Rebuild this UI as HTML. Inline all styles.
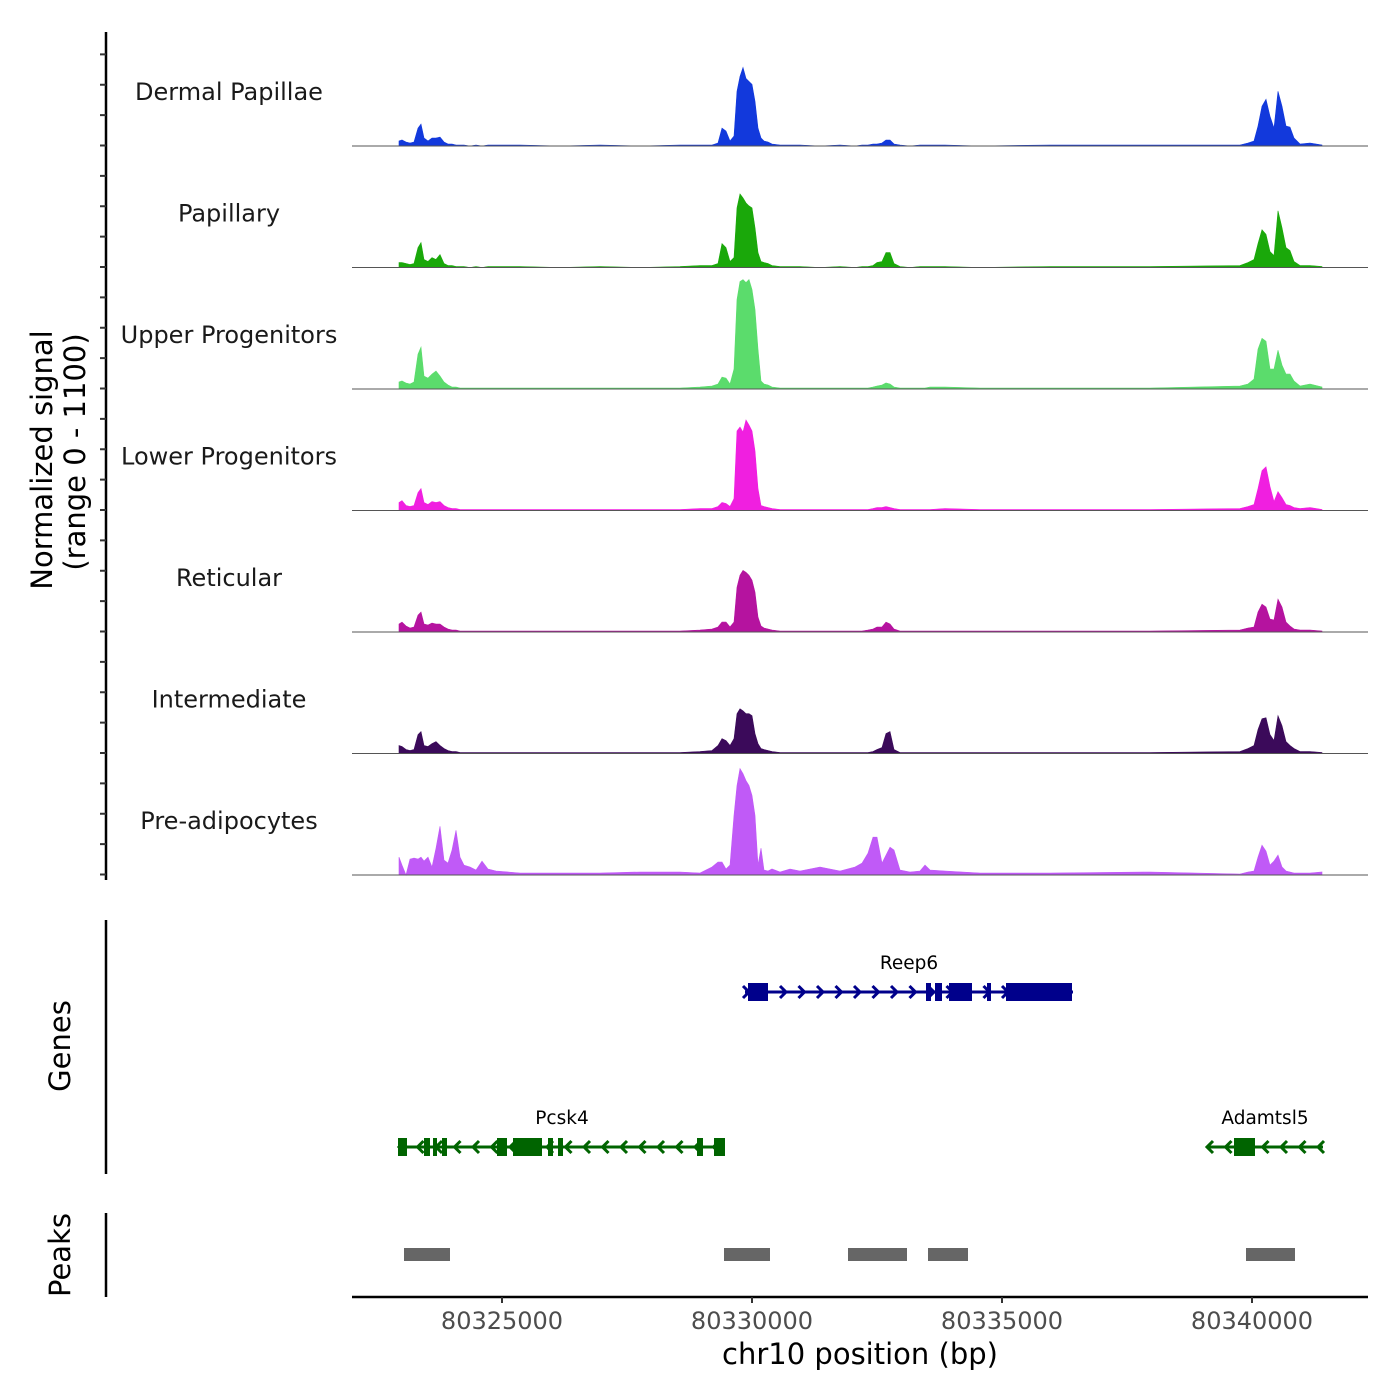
<!DOCTYPE html>
<html><head><meta charset="utf-8"><style>
html,body{margin:0;padding:0;background:#fff;}
svg{display:block;font-family:"DejaVu Sans","Liberation Sans",sans-serif;}
</style></head><body>
<svg id="chart" width="1400" height="1400" viewBox="0 0 1400 1400" xmlns="http://www.w3.org/2000/svg">
<rect x="0" y="0" width="1400" height="1400" fill="#fff"/>
<g id="signal-axis"></g>
<text transform="translate(52,460) rotate(-90)" text-anchor="middle" font-size="29" fill="#000">Normalized signal</text>
<text transform="translate(85,452) rotate(-90)" text-anchor="middle" font-size="29" fill="#000">(range 0 - 1100)</text>
<g id="tracks"></g>
<line x1="106" y1="920" x2="106" y2="1174" stroke="#000" stroke-width="2.5"/>
<text transform="translate(70,1046) rotate(-90)" text-anchor="middle" font-size="29" fill="#000">Genes</text>
<g id="genes"></g>
<line x1="106" y1="1213" x2="106" y2="1297" stroke="#000" stroke-width="2.5"/>
<text transform="translate(70,1255) rotate(-90)" text-anchor="middle" font-size="29" fill="#000">Peaks</text>
<g id="peaks"></g>
<g id="xaxis"></g>
<text x="860" y="1364" text-anchor="middle" font-size="29" fill="#000">chr10 position (bp)</text>
</svg>
<script>
const positions=[80322940,80323000,80323080,80323160,80323240,80323320,80323380,80323440,80323520,80323600,80323680,80323760,80323840,80323920,80324000,80324080,80324160,80324240,80324360,80324480,80324600,80324720,80324880,80325360,80326160,80326960,80327760,80328560,80328960,80329200,80329320,80329400,80329480,80329560,80329640,80329700,80329760,80329820,80329880,80329940,80330000,80330060,80330120,80330180,80330240,80330320,80330400,80330560,80330760,80330960,80331360,80331760,80332060,80332200,80332320,80332420,80332500,80332600,80332680,80332760,80332840,80332960,80333160,80333360,80333460,80333560,80333860,80334560,80335960,80337960,80339760,80339920,80340040,80340120,80340200,80340280,80340360,80340440,80340520,80340600,80340680,80340760,80340840,80340960,80341160,80341400];
const trackNames=["Dermal Papillae","Papillary","Upper Progenitors","Lower Progenitors","Reticular","Intermediate","Pre-adipocytes"];
const trackColors=["#1239dc","#1aa80a","#5bdc6c","#f01fe0","#b5139f","#3b0a5a","#c05af7"];
const dermal=[45,54,36,27,36,162,198,72,45,72,72,81,36,18,18,9,9,9,0,9,0,9,9,9,0,9,0,9,9,9,27,162,135,45,90,495,630,711,612,585,558,405,162,72,45,36,18,9,9,9,0,9,0,9,9,18,18,27,54,54,18,9,0,9,9,9,9,0,9,9,9,27,45,180,360,423,270,162,495,360,180,171,72,18,27,9];
const papillary=[45,45,36,27,36,180,225,72,54,90,72,117,36,18,18,9,9,9,0,9,0,9,9,9,0,9,0,9,18,18,36,216,180,54,90,540,666,630,585,558,540,360,135,54,45,36,18,9,9,9,0,9,0,9,9,18,45,54,135,135,36,9,0,9,9,9,9,0,9,9,18,45,72,216,342,300,144,108,513,360,180,153,54,18,18,9];
const upper=[63,72,54,45,63,315,378,117,99,135,162,117,63,36,18,18,9,9,9,9,9,9,9,9,9,9,9,9,18,27,45,108,99,45,180,810,972,990,963,990,900,720,360,72,45,36,18,9,9,9,9,9,9,9,9,18,27,36,54,45,18,9,9,9,9,18,18,9,9,9,27,45,90,360,459,432,180,180,351,216,135,135,72,27,45,18];
const lower=[72,90,45,36,45,162,198,72,54,81,72,81,45,27,18,18,9,9,9,9,9,9,9,9,9,9,9,9,18,18,36,72,63,36,108,720,756,711,819,774,720,540,198,45,36,27,18,9,9,9,9,9,9,9,9,18,27,27,36,27,18,9,9,9,9,9,18,9,9,9,18,36,54,198,360,396,216,81,171,117,54,45,27,18,27,9];
const reticular=[72,90,54,36,45,153,180,72,63,81,72,72,45,27,18,18,9,9,9,9,9,9,9,9,9,9,9,9,18,27,45,90,90,45,90,405,513,558,540,513,468,360,135,54,36,27,18,9,9,9,9,9,9,9,18,27,45,45,90,72,27,9,9,9,9,9,9,9,9,9,18,36,45,180,252,225,117,108,297,225,90,54,27,18,18,9];
const intermediate=[72,63,36,27,36,171,198,72,63,90,108,72,45,27,18,18,9,9,9,9,9,9,9,9,9,9,9,9,18,27,72,135,117,72,135,360,405,387,360,360,342,180,90,45,36,27,18,9,9,9,9,9,9,9,9,18,36,54,180,198,36,9,9,9,9,9,9,9,9,9,18,45,72,216,315,324,171,117,342,252,108,72,45,18,18,9];
const preadip=[162,90,0,144,153,144,162,126,162,72,243,441,135,108,225,405,162,90,72,45,126,54,36,18,18,18,27,27,18,72,117,117,54,90,540,810,963,918,855,810,720,540,90,243,45,36,54,27,54,36,72,36,72,108,198,342,342,108,180,252,225,45,27,36,90,45,36,18,18,27,9,27,36,162,270,216,90,126,180,72,36,27,18,18,18,27];
const trackValues=[dermal,papillary,upper,lower,reticular,intermediate,preadip];
const xTicks=[80325000,80330000,80335000,80340000];
const geneNames=["Reep6","Pcsk4","Adamtsl5"];
const geneStarts=[80329860,80322940,80339100];
const geneEnds=[80336420,80329460,80341420];
const geneStrands=[1,-1,-1];
const geneRows=[0,1,1];
const geneExons=[
 [[80329920,80330320],[80333480,80333580],[80333660,80333800],[80333940,80334400],[80334700,80334780],[80335080,80336400]],
 [[80322920,80323100],[80323440,80323560],[80323620,80323700],[80323800,80323900],[80324900,80325100],[80325220,80325800],[80325920,80326020],[80326120,80326220],[80328900,80329020],[80329240,80329460]],
 [[80339640,80340060]]
];
const peakStarts=[80323040,80329440,80331920,80333520,80339880];
const peakEnds=[80323960,80330360,80333100,80334320,80340860];

const NS="http://www.w3.org/2000/svg";
function mk(tag,attrs,parent){const e=document.createElementNS(NS,tag);for(const k in attrs)e.setAttribute(k,attrs[k]);parent.appendChild(e);return e;}
const X0=352,X1=1368,BP0=80322000,BP1=80342320;
function xs(bp){return X0+(bp-BP0)*(X1-X0)/(BP1-BP0);}
const trackH=121.5,firstBase=146,YMAX=1100;
function ys(v,i){return firstBase+i*trackH - v*trackH/YMAX;}

const ax=document.getElementById('signal-axis');
const axl=mk('line',{x1:106,y1:32,x2:106,y2:880,stroke:'#000','stroke-width':2.5},ax);


for(let k=0;k<=28;k++){const y=firstBase-trackH*3/4+k*trackH/4-0.5; if(y<35||y>880)continue;
 const t=mk('line',{x1:100,y1:y,x2:106,y2:y,stroke:'#333','stroke-width':2},ax);
 
 }

const tg=document.getElementById('tracks');
trackNames.forEach((nm,i)=>{
 const g=mk('g',{},tg);
 
 
 const base=ys(0,i);
 const vals=trackValues[i];
 let d='M'+xs(positions[0]).toFixed(1)+','+base;
 positions.forEach((p,j)=>{d+=' L'+xs(p).toFixed(1)+','+ys(vals[j],i).toFixed(1);});
 d+=' L'+xs(positions[positions.length-1]).toFixed(1)+','+base+' Z';
 const a=mk('path',{d:d,fill:trackColors[i],stroke:trackColors[i],'stroke-width':0.6},g);
 
 
 const bl=mk('line',{x1:X0,y1:base,x2:X1,y2:base,stroke:'#555','stroke-width':1},g);
 
 
 const lb=mk('text',{x:229,y:base-46,'text-anchor':'middle','font-size':24,fill:'#1a1a1a'},g);
 lb.textContent=nm;
 
 
});

const gg=document.getElementById('genes');
const rowY=[992,1147],rowCol=['#00008b','#006400'];
geneNames.forEach((nm,i)=>{
 const g=mk('g',{},gg);
 
 
 const y=rowY[geneRows[i]],c=rowCol[geneRows[i]];
 const x1=xs(geneStarts[i]),x2=xs(geneEnds[i]);
 mk('line',{x1:x1,y1:y,x2:x2,y2:y,stroke:c,'stroke-width':3},g);
 const s=geneStrands[i];
 for(let x=x1+2;x<=x2;x+=18.5){
  const d=s>0?`M${x-4},${y-6} L${x+2},${y} L${x-4},${y+6}`:`M${x+4},${y-6} L${x-2},${y} L${x+4},${y+6}`;
  mk('path',{d:d,fill:'none',stroke:c,'stroke-width':3},g);
 }
 geneExons[i].forEach(ex=>{
  const r=mk('rect',{x:xs(ex[0]),y:y-9,width:Math.max(3,xs(ex[1])-xs(ex[0])),height:18,fill:c},g);
  
  
 });
 const t=mk('text',{x:(x1+x2)/2,y:y-23,'text-anchor':'middle','font-size':18.5,fill:'#000'},g);
 t.textContent=nm;
 
 
});

const pg=document.getElementById('peaks');
peakStarts.forEach((s,i)=>{
 const r=mk('rect',{x:xs(s),y:1248,width:xs(peakEnds[i])-xs(s),height:13,fill:'#666'},pg);
 
 
});

const xg=document.getElementById('xaxis');
mk('line',{x1:X0,y1:1297,x2:X1,y2:1297,stroke:'#000','stroke-width':2.5},xg);
xTicks.forEach(t=>{
 const x=xs(t);
 const tk=mk('line',{x1:x,y1:1297,x2:x,y2:1303,stroke:'#333','stroke-width':2},xg);
 
 
 const l=mk('text',{x:x,y:1329,'text-anchor':'middle','font-size':24,fill:'#4d4d4d'},xg);
 l.textContent=String(t);
 
 
});
</script>
</body></html>
